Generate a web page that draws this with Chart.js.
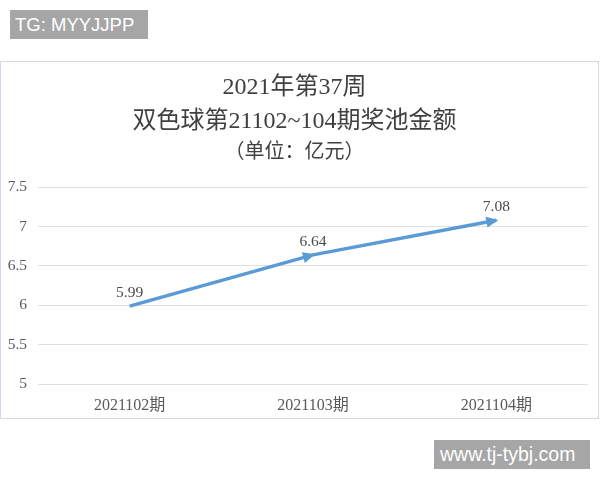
<!DOCTYPE html>
<html>
<head>
<meta charset="utf-8">
<script src="https://cdn.jsdelivr.net/npm/chart.js@4/dist/chart.umd.min.js"></script>
<style>
  html, body { margin: 0; padding: 0; background: #ffffff; }
  body { width: 600px; height: 480px; position: relative; overflow: hidden; }
  #frame { position: absolute; left: 0; top: 61px; width: 597px; height: 356px;
           border: 1px solid #d9d9d9; border-left-color: #d4d4f0; background: #ffffff; }
  #frame canvas { display: block; }
  .wm { position: absolute; background: #a6a6a6; color: #ffffff;
        font-family: "Liberation Sans", Arial, sans-serif;
        line-height: 29px; height: 29px; box-sizing: border-box; padding-left: 5px; white-space: nowrap; }
  #wm1 { left: 10px; top: 10px; width: 138px; font-size: 18.5px; }
  #wm2 { left: 434px; top: 440px; width: 156px; font-size: 19.5px; padding-left: 6px; }
</style>
</head>
<body>
<div id="wm1" class="wm">TG: MYYJJPP</div>
<div id="frame"><canvas id="c" width="597" height="356"></canvas></div>
<div id="wm2" class="wm">www.tj-tybj.com</div>
<script>
const categories = ["2021102期", "2021103期", "2021104期"];
const poolValues = [5.99, 6.64, 7.08];
const titleLines = ["2021年第37周", "双色球第21102~104期奖池金额"];
const subtitleText = "（单位：亿元）";
const yMin = 5, yMax = 7.5, yStep = 0.5;

const FONT = '"Liberation Serif", "Noto Sans CJK SC", serif';
const LINE_COLOR = '#5B9BD5';

const arrowPlugin = {
  id: 'arrowsAndLabels',
  afterDatasetsDraw(chart) {
    const ctx = chart.ctx;
    const meta = chart.getDatasetMeta(0);
    const pts = meta.data;
    ctx.save();
    for (let i = 1; i < pts.length; i++) {
      const p0 = pts[i - 1], p1 = pts[i];
      const ang = Math.atan2(p1.y - p0.y, p1.x - p0.x);
      const len = 12, half = 5.5;
      ctx.save();
      ctx.translate(p1.x, p1.y);
      ctx.rotate(ang);
      ctx.beginPath();
      ctx.moveTo(2, 0);
      ctx.lineTo(2 - len, -half);
      ctx.lineTo(2 - len, half);
      ctx.closePath();
      ctx.fillStyle = LINE_COLOR;
      ctx.fill();
      ctx.restore();
    }
    ctx.font = '15.5px ' + FONT;
    ctx.fillStyle = '#4a4a4a';
    ctx.textAlign = 'center';
    ctx.textBaseline = 'middle';
    const data = chart.data.datasets[0].data;
    pts.forEach((p, i) => {
      ctx.fillText(data[i].toFixed(2), p.x, p.y - 13);
    });
    ctx.restore();
  }
};

new Chart(document.getElementById('c'), {
  type: 'line',
  data: {
    labels: categories,
    datasets: [{
      data: poolValues,
      borderColor: LINE_COLOR,
      borderWidth: 3.5,
      pointRadius: 0,
      pointHoverRadius: 0,
      tension: 0,
      fill: false
    }]
  },
  options: {
    responsive: false,
    animation: false,
    events: [],
    layout: { padding: { left: 0, right: 10, top: 0, bottom: 0 } },
    plugins: {
      legend: { display: false },
      tooltip: { enabled: false },
      title: {
        display: true,
        text: titleLines,
        color: '#404040',
        font: { family: FONT, size: 24, weight: 'normal', lineHeight: 1.4 },
        padding: { top: 9, bottom: 0 }
      },
      subtitle: {
        display: true,
        text: subtitleText,
        color: '#404040',
        font: { family: FONT, size: 20, weight: 'normal', lineHeight: 1.5 },
        padding: { top: 0, bottom: 19 }
      }
    },
    scales: {
      x: {
        offset: true,
        grid: { display: false, drawTicks: false },
        border: { display: false },
        ticks: { color: '#595959', font: { family: FONT, size: 16 }, padding: 12, maxRotation: 0 },
        afterFit(scale) { scale.height = 34; }
      },
      y: {
        min: yMin, max: yMax,
        grid: { color: '#e0e0e0', lineWidth: 1, drawTicks: false },
        border: { display: false },
        ticks: { stepSize: yStep, color: '#595959', font: { family: FONT, size: 15.5 }, padding: 11,
                 callback: v => String(v) },
        afterFit(scale) { scale.width = 37; }
      }
    }
  },
  plugins: [arrowPlugin]
});
</script>
</body>
</html>
